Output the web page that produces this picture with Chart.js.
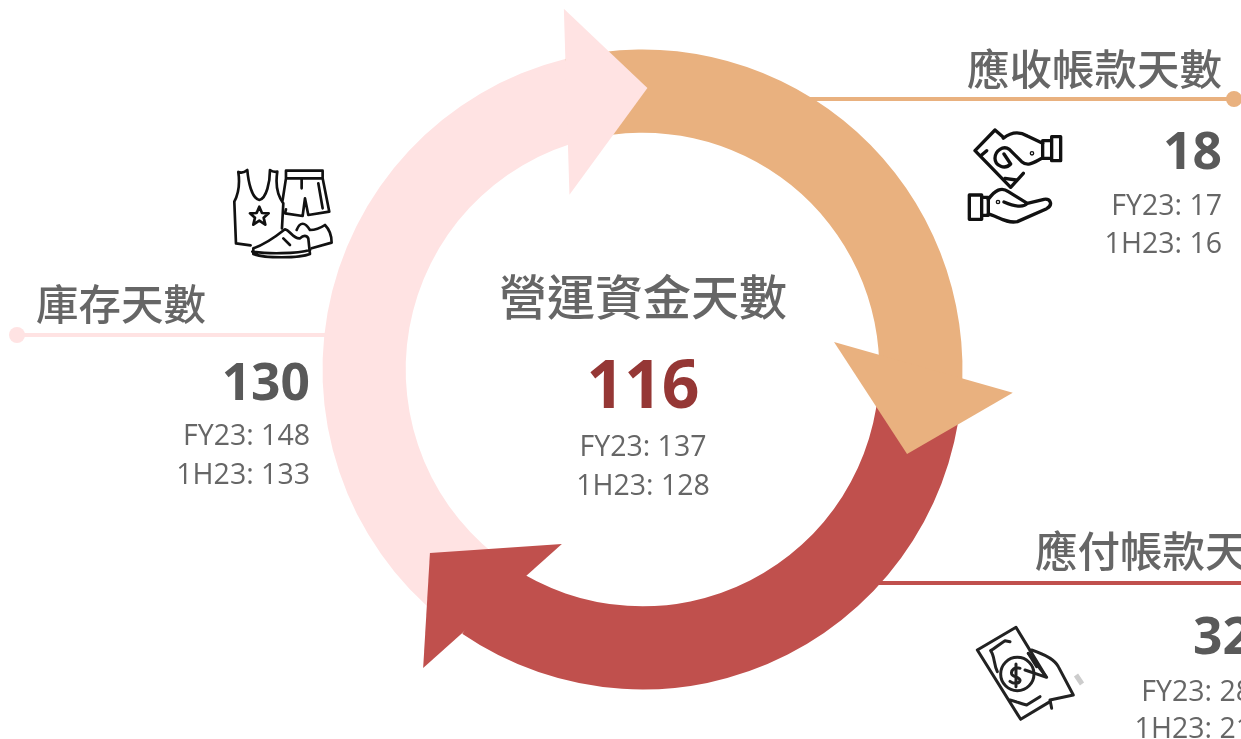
<!DOCTYPE html>
<html lang="zh-Hant">
<head>
<meta charset="utf-8">
<title>營運資金天數</title>
<script src="https://cdn.jsdelivr.net/npm/chart.js@4"></script>
<style>
  html, body { margin: 0; padding: 0; background: #fff; }
  #page { position: relative; width: 1241px; height: 739px; overflow: hidden; }
  #ring { position: absolute; left: 0; top: 0; z-index: 1; }
  #icons { position: absolute; left: 0; top: 0; z-index: 2; }
  .rule { position: absolute; height: 4px; z-index: 0; }
  .dot { position: absolute; width: 16px; height: 16px; border-radius: 50%; z-index: 0; }
  .t { position: absolute; z-index: 3; white-space: nowrap; line-height: 0; color: #666;
       font-family: "Open Sans", "Noto Sans CJK TC", sans-serif; }
  .title { font-family: "Noto Sans CJK TC", sans-serif; font-weight: 500; color: #666; }
  .big { font-weight: 700; color: #595959; }
  .small { color: #666; }
</style>
</head>
<body>
<div id="page">
  <canvas id="ring" width="1241" height="739"></canvas>
  <svg id="icons" width="1241" height="739" fill="none" stroke="#111" stroke-linecap="round" stroke-linejoin="round">
    <!-- hands + money -->
    <g transform="translate(940 30) scale(0.3333)" stroke-width="10">
      <path d="M335 320H362V392H335ZM308 332H335V385H308Z"/>
      <path d="M165 300L105 362L212 472L250 430M165 300L190 322"/>
      <path d="M190 325C215 305 240 305 262 318L308 340M306 385C285 395 265 412 245 395L208 358C190 345 165 362 165 385C165 408 195 420 212 402L192 372M195 445L228 450M125 375L140 362"/>
      <circle cx="276" cy="370" r="2"/>
      <path d="M88 495H125V568H88ZM125 502H145V556H125Z"/>
      <path d="M145 508C165 480 185 470 205 485L262 520C250 535 225 530 192 516M145 552C170 558 200 582 232 575L320 536C340 525 332 505 312 508L262 520"/>
      <circle cx="174" cy="516" r="2"/>
    </g>
    <!-- tank top, shorts, shoes -->
    <g transform="translate(0 150) scale(0.3333)" stroke-width="8">
      <path d="M715 66C725 70 735 66 742 60C745 95 755 145 778 150C800 145 810 95 810 60C818 66 825 66 832 65C825 110 835 140 850 160L846 235M715 66C720 100 716 130 703 155L708 280L752 286"/>
      <path d="M778 170L786 189L806 190L791 203L796 224L778 212L760 224L765 203L750 190L770 189Z"/>
      <path d="M858 62H968V85H858ZM858 85L848 150M858 178L855 190L908 198L915 145L925 195L988 185L968 85M905 85V115M955 100L968 175"/>
      <path d="M760 295C800 282 830 258 855 238C870 240 880 268 900 265C910 255 920 255 925 265L930 312C900 325 790 325 760 312ZM757 305C800 312 890 312 930 300"/>
      <path d="M890 240C900 215 915 215 930 240C950 240 960 235 975 225C990 240 995 260 995 278L935 295M850 265L870 285"/>
    </g>
    <!-- bill in hand -->
    <g transform="translate(960 520) scale(0.3333)" stroke-width="9" stroke="#222">
      <path d="M52 390L168 322L258 470M52 390L182 598L270 545"/>
      <path d="M92 392C105 385 115 375 135 362L150 365M205 400L230 440M112 455C100 430 105 410 92 392M150 540C170 545 180 550 200 555L240 530"/>
      <circle cx="172" cy="462" r="50"/>
      <path d="M180 445C165 440 152 450 155 462C158 472 182 470 180 482C178 492 160 492 150 484M168 432V500"/>
      <path d="M215 390C260 405 285 420 295 440L340 525M205 400L260 472L195 450M340 525L270 540L275 565"/>
    </g>
    <path d="M1076 675L1082 684" stroke="#ccc" stroke-width="5" stroke-linecap="butt"/>
  </svg>
</div>

<script>
/* DATA */

const categories = ["應收帳款天數", "應付帳款天數", "庫存天數"];
const currentDays = [18, 32, 130];
const fy23Days = [17, 28, 148];
const h123Days = [16, 21, 133];

const centerTitle = "營運資金天數";
const centerCurrent = 116;
const centerFy23 = 137;
const centerH123 = 128;

// how many degrees of the ring each arrow body takes
const arcDegrees = [105.7, 122.6, 131.7];
const arcColors = ["#E9B17F", "#C0504D", "#FFE3E3"];

/* TEXT AND LEADER LINES */

const page = document.getElementById("page");

function addText(str, right, y, size, cls, color) {
  const el = document.createElement("div");
  el.className = "t " + cls;
  el.textContent = str;
  el.style.right = (1241 - right) + "px";
  el.style.top = y + "px";
  el.style.fontSize = size + "px";
  if (color) el.style.color = color;
  page.appendChild(el);
  return el;
}

// right edge and rows: title, number, FY23, 1H23
const blocks = [
  { right: 1222, titleRight: 1222, rows: [67, 149, 204, 242] },
  { right: 1252, titleRight: 1290, rows: [549, 634, 690, 727] },
  { right: 310, titleRight: 206, rows: [302, 380, 434, 473] }
];

categories.forEach((name, i) => {
  const b = blocks[i];
  addText(name, b.titleRight, b.rows[0], 42.5, "title");
  addText(String(currentDays[i]), b.right, b.rows[1], 51.5, "big");
  addText("FY23: " + fy23Days[i], b.right, b.rows[2], 28.5, "small");
  addText("1H23: " + h123Days[i], b.right, b.rows[3], 28.5, "small");
});

function addCentered(el, x) {
  el.style.right = "auto";
  el.style.left = x + "px";
  el.style.transform = "translateX(-50%)";
}

addCentered(addText(centerTitle, 0, 294, 48, "title"), 643);
addCentered(addText(String(centerCurrent), 0, 382, 66, "big", "#953735"), 643);
addCentered(addText("FY23: " + centerFy23, 0, 445, 28.5, "small"), 643);
addCentered(addText("1H23: " + centerH123, 0, 484, 28.5, "small"), 643);

function addRule(left, width, top, color) {
  const el = document.createElement("div");
  el.className = "rule";
  el.style.cssText = `left:${left}px;width:${width}px;top:${top}px;background:${color}`;
  page.appendChild(el);
}

function addDot(x, y, color) {
  const el = document.createElement("div");
  el.className = "dot";
  el.style.cssText = `left:${x - 8}px;top:${y - 8}px;background:${color}`;
  page.appendChild(el);
}

addRule(800, 434, 97, arcColors[0]);
addDot(1234, 99, arcColors[0]);
addRule(870, 371, 581, arcColors[1]);
addRule(17, 310, 333, arcColors[2]);
addDot(17, 335, arcColors[2]);

/* ARROW HEADS */

// head shape relative to the end of each arc: degrees past the end, distance from centre
const headShapes = [
  { outer: [1.9, 371], inner: [-9.9, 193.5], tip: [16, 277.7] },
  { outer: [2, 370.5], inner: [-9.5, 192.2], tip: [14.9, 280.8] },
  { outer: [1.7, 369.2], inner: [-8.7, 189.3], tip: [15, 281.5] }
];

const arrowHeads = {
  id: "arrowHeads",
  afterDatasetsDraw(chart) {
    const ctx = chart.ctx;
    chart.getDatasetMeta(0).data.forEach((arc, i) => {
      const pt = p => {
        const a = arc.endAngle + p[0] * Math.PI / 180;
        return [arc.x + p[1] * Math.cos(a), arc.y + p[1] * Math.sin(a)];
      };
      const s = headShapes[i];
      const a = pt(s.outer), b = pt(s.tip), c = pt(s.inner);
      ctx.save();
      ctx.fillStyle = arcColors[i];
      ctx.beginPath();
      ctx.moveTo(a[0], a[1]);
      ctx.lineTo(b[0], b[1]);
      ctx.lineTo(c[0], c[1]);
      ctx.closePath();
      ctx.fill();
      ctx.restore();
    });
  }
};

/* RING */

new Chart(document.getElementById("ring"), {
  type: "doughnut",
  data: {
    labels: categories,
    datasets: [{
      data: arcDegrees,
      backgroundColor: arcColors,
      borderWidth: 0
    }]
  },
  options: {
    responsive: false,
    animation: false,
    rotation: -14,
    radius: 320,
    cutout: "74%",
    layout: { padding: { left: 44 } },
    plugins: { legend: { display: false }, tooltip: { enabled: false } }
  },
  plugins: [arrowHeads]
});
</script>
</body>
</html>
